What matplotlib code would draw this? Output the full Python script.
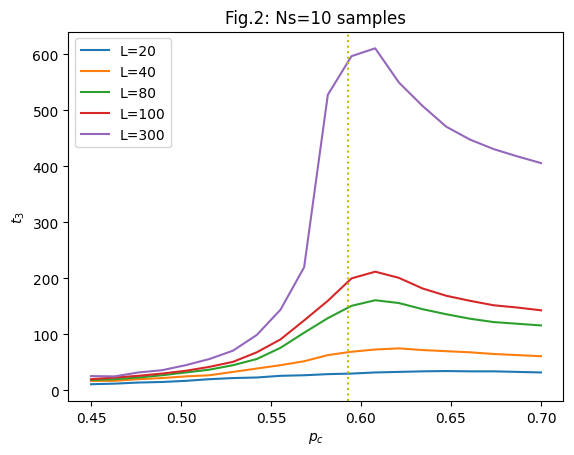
import numpy as np
import matplotlib
matplotlib.use("Agg")
import matplotlib.pyplot as plt

# occupation probabilities (20 points from 0.45 to 0.70)
p_values = np.linspace(0.45, 0.70, 20)
p_threshold = 0.5927

sizes = [20, 40, 80, 100, 300]

t3_L20 = [11, 12, 14, 15, 17, 20, 22, 23, 26, 27, 29, 30, 32, 33, 34, 34.5, 34, 34, 33, 32]
t3_L40 = [17, 17, 20, 22, 25, 27, 33, 39, 45, 52, 63, 69, 73, 75, 72, 70, 68, 65, 63, 61]
t3_L80 = [18.5, 20, 23, 27, 32, 37, 45, 56, 76, 103, 129, 151, 161, 156, 145, 136, 128, 122, 119, 116]
t3_L100 = [20, 23, 26, 30, 35, 42, 51, 68, 91, 125, 160, 200, 212, 201, 182, 169, 160, 152, 148, 143]
t3_L300 = [25.5, 25, 32, 36, 45, 56, 71, 99, 144, 220, 528, 597, 611, 550, 508, 471, 448, 431, 418, 406]

all_t3 = [t3_L20, t3_L40, t3_L80, t3_L100, t3_L300]

fig, ax = plt.subplots(figsize=(5.74, 4.56), dpi=100)
fig.subplots_adjust(left=0.1193, right=0.9817, top=0.9287, bottom=0.1184)

#one line per lattice size
for L, t3 in zip(sizes, all_t3):
    ax.plot(p_values, t3, label="L={}".format(L))

ax.axvline(p_threshold, color='y', linestyle=':')

ax.set_title("Fig.2: Ns=10 samples")
ax.set_xlabel("$p_c$")
ax.set_ylabel("$t_3$")
ax.legend(loc="upper left")

plt.savefig("out.png", dpi=100)
plt.close()
